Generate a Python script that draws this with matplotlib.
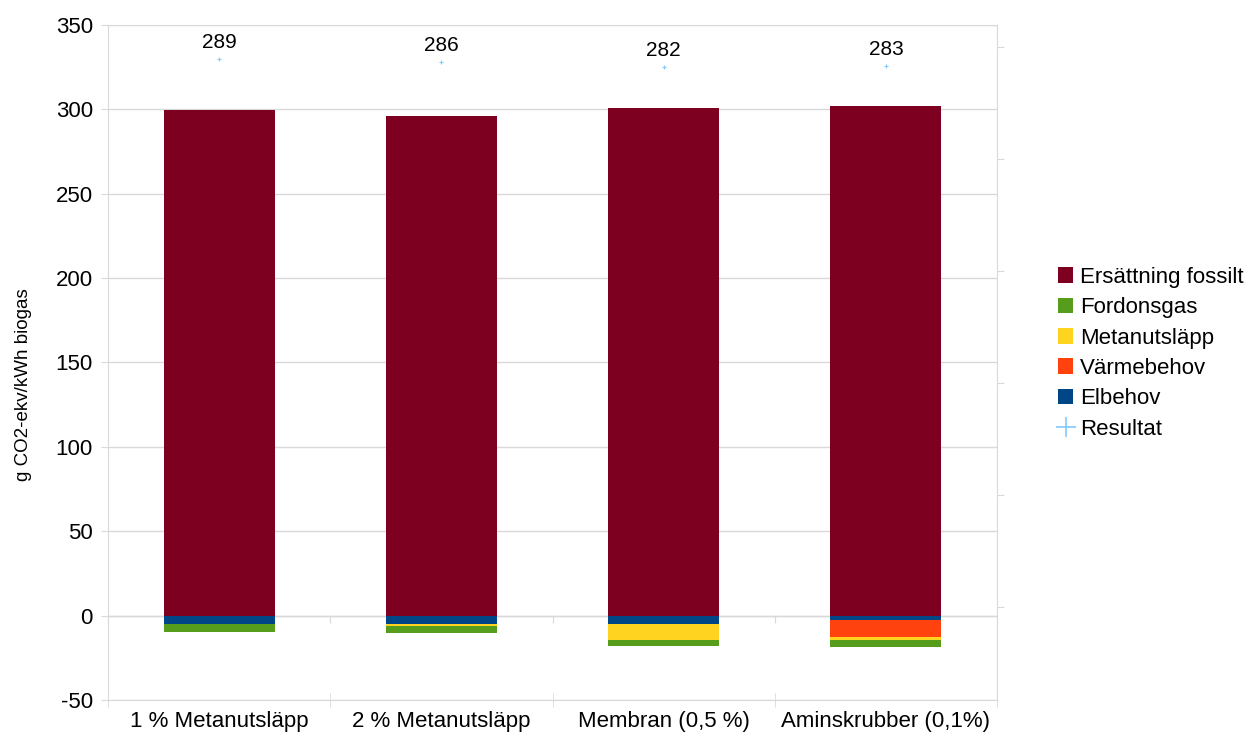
"""
Stapeldiagram: klimatpåverkan per kWh biogas för olika uppgraderingsalternativ
"""

import matplotlib
matplotlib.use("Agg")
import matplotlib.pyplot as plt
from matplotlib.patches import Patch
from matplotlib.lines import Line2D
import numpy as np

plt.rcParams["font.family"] = ["Liberation Sans", "DejaVu Sans"]
plt.rcParams["axes.unicode_minus"] = False

categories = ["1 % Metanutsläpp", "2 % Metanutsläpp", "Membran (0,5 %)", "Aminskrubber (0,1%)"]

ersattning = [299.4, 296.1, 300.8, 302.0]
elbehov = [-4.9, -4.9, -4.9, -2.8]
varmebehov = [0.0, 0.0, 0.0, -9.7]
metanutslapp = [-0.3, -1.0, -9.3, -1.8]
fordonsgas = [-4.7, -4.5, -3.9, -4.1]
resultat = [289, 286, 282, 283]

colors = {
    "Ersättning fossilt": "#7e0021",
    "Fordonsgas": "#579d1c",
    "Metanutsläpp": "#ffd320",
    "Värmebehov": "#ff420e",
    "Elbehov": "#004586",
}
res_color = "#83caff"
grid_color = "#d9d9d9"

x = np.arange(len(categories))
width = 0.5

fig = plt.figure(figsize=(12.46, 7.33), dpi=100)
ax = fig.add_axes([0.0867, 0.045, 0.7135, 0.921])

ax.bar(x, ersattning, width, color=colors["Ersättning fossilt"], zorder=3)

# negativa delar staplas nedåt från noll
bottom = np.zeros(len(x))
for name, vals in [("Elbehov", elbehov), ("Värmebehov", varmebehov),
                   ("Metanutsläpp", metanutslapp), ("Fordonsgas", fordonsgas)]:
    ax.bar(x, vals, width, bottom=bottom, color=colors[name], zorder=3)
    bottom = bottom + np.array(vals)

ymin, ymax = -50, 350
ax.set_ylim(ymin, ymax)
ax.set_xlim(-0.5, len(x) - 0.5)
ax.set_yticks(range(-50, 351, 50))
ax.grid(axis="y", color=grid_color, linewidth=1, zorder=0)
ax.set_axisbelow(True)

for s in ax.spines.values():
    s.set_color(grid_color)

ax.set_xticks(x)
ax.set_xticklabels(categories, fontsize=16)
ax.set_xticks(np.arange(len(x) + 1) - 0.5, minor=True)
ax.tick_params(axis="x", which="major", length=0, pad=8)
ax.tick_params(axis="x", which="minor", length=10, direction="inout", color=grid_color)
ax.tick_params(axis="y", labelsize=16, length=5, color=grid_color, pad=6)
ax.set_ylabel("g CO2-ekv/kWh biogas", fontsize=13.5)
ax.yaxis.set_label_coords(-0.0855, 0.467)

# x-axel vid noll med streck vid kategorigränserna
zero_pos = (0 - ymin) / (ymax - ymin)
sec = ax.secondary_xaxis(zero_pos)
sec.set_xticks(np.arange(len(x) + 1) - 0.5)
sec.set_xticklabels([])
sec.tick_params(length=5, direction="out", color=grid_color)
sec.spines["bottom"].set_color(grid_color)
sec.spines["bottom"].set_linewidth(1)

# Resultat på sekundär axel
ax2 = ax.twinx()
ax2.set_ylim(-283.5, 319.5)
ax2.set_yticks([300, 200, 100, 0, -100, -200])
ax2.set_yticklabels([])
ax2.tick_params(axis="y", length=5, color=grid_color)
for s in ax2.spines.values():
    s.set_visible(False)
ax2.plot(x, resultat, linestyle="none", marker="+", markersize=3, color=res_color,
         markeredgewidth=0.8, zorder=4)
for xi, r in zip(x, resultat):
    ax2.annotate(f"{r}", (xi, r), textcoords="offset points", xytext=(0, 5),
                 ha="center", va="bottom", fontsize=15)

handles = [Patch(facecolor=colors[k], label=k) for k in colors]
handles.append(Line2D([], [], linestyle="none", marker="+", markersize=14,
                      markeredgewidth=1.2, color=res_color, label="Resultat"))
fig.legend(handles=handles, loc="center left", bbox_to_anchor=(0.84, 0.518),
           frameon=False, fontsize=16, handlelength=0.7, handleheight=0.7,
           handletextpad=0.3, labelspacing=0.42, borderpad=0)

plt.savefig("out.png", dpi=100)
